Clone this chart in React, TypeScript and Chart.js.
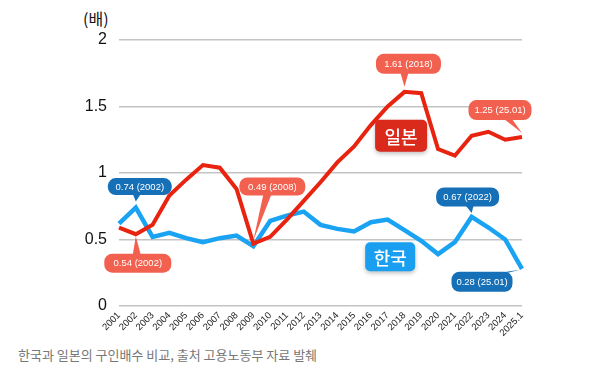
import React, { useEffect, useRef } from "react";
import { Chart, registerables } from "chart.js";

Chart.register(...registerables);

const years = ["2001","2002","2003","2004","2005","2006","2007","2008","2009","2010","2011","2012","2013","2014","2015","2016","2017","2018","2019","2020","2021","2022","2023","2024","2025.1"];
const japan = [0.59,0.54,0.61,0.83,0.95,1.06,1.04,0.88,0.47,0.52,0.65,0.79,0.93,1.08,1.20,1.36,1.50,1.61,1.60,1.18,1.13,1.28,1.31,1.25,1.27];
const korea = [0.62,0.74,0.52,0.55,0.51,0.48,0.51,0.53,0.45,0.64,0.68,0.71,0.61,0.58,0.56,0.63,0.65,0.57,0.49,0.39,0.48,0.67,0.59,0.50,0.28];
const yTicks = [0, 0.5, 1, 1.5, 2];

const RED = "#e8230f";
const BLUE = "#1aa3f3";
const SALMON = "#f2604f";
const DARKBLUE = "#1670b8";

// callouts: dataset index, point index, text, color, bubble offsets
const callouts = [
  { ds: 1, i: 1, text: "0.74 (2002)", color: DARKBLUE, dx: 4, dy: -21, w: 64, h: 17, bdx: -3, gap: 6 },
  { ds: 0, i: 1, text: "0.54 (2002)", color: SALMON, dx: 2, dy: 29, w: 67, h: 19, bdx: -1, gap: 2 },
  { ds: 0, i: 8, text: "0.49 (2008)", color: SALMON, dx: 19, dy: -57, w: 66, h: 18, bdx: -5, gap: 3 },
  { ds: 0, i: 17, text: "1.61 (2018)", color: SALMON, dx: 4, dy: -28, w: 65, h: 20, bdx: -4, gap: 5 },
  { ds: 0, i: 24, text: "1.25 (25.01)", color: SALMON, dx: -22, dy: -27, w: 63, h: 20, bdx: 8, gap: 4 },
  { ds: 1, i: 21, text: "0.67 (2022)", color: DARKBLUE, dx: -4, dy: -20, w: 63, h: 19, bdx: 2, gap: 4 },
  { ds: 1, i: 24, text: "0.28 (25.01)", color: DARKBLUE, dx: -40, dy: 13, w: 61, h: 20, bdx: 22, gap: 1 },
];

const seriesLabels = [
  { text: "일본", color: "#d92a1c", x: 16.8, y: 1.28, w: 52, h: 32 },
  { text: "한국", color: "#1a9ff0", x: 16.15, y: 0.37, w: 50, h: 29 },
];

function rr(ctx: CanvasRenderingContext2D, x: number, y: number, w: number, h: number, r: number) {
  ctx.beginPath();
  ctx.moveTo(x + r, y);
  ctx.lineTo(x + w - r, y);
  ctx.arcTo(x + w, y, x + w, y + r, r);
  ctx.lineTo(x + w, y + h - r);
  ctx.arcTo(x + w, y + h, x + w - r, y + h, r);
  ctx.lineTo(x + r, y + h);
  ctx.arcTo(x, y + h, x, y + h - r, r);
  ctx.lineTo(x, y + r);
  ctx.arcTo(x, y, x + r, y, r);
  ctx.closePath();
}

const calloutPlugin = {
  id: "callouts",
  afterDatasetsDraw(chart: any) {
    const ctx: CanvasRenderingContext2D = chart.ctx;
    const xs = chart.scales.x;
    const ys = chart.scales.y;
    ctx.save();
    for (const c of callouts) {
      const v = chart.data.datasets[c.ds].data[c.i];
      const px = xs.getPixelForValue(c.i);
      const py = ys.getPixelForValue(v);
      const cx = px + c.dx;
      const cy = py + c.dy;
      const below = c.dy > 0;
      const edgeY = below ? cy - c.h / 2 + 1 : cy + c.h / 2 - 1;
      const bx = cx + c.bdx;
      const tipY = below ? py + c.gap : py - c.gap;
      ctx.fillStyle = c.color;
      ctx.beginPath();
      ctx.moveTo(bx - 4, edgeY);
      ctx.lineTo(bx + 4, edgeY);
      ctx.lineTo(px + (c.bdx > 15 ? -2 : 0), tipY);
      ctx.closePath();
      ctx.fill();
      rr(ctx, cx - c.w / 2, cy - c.h / 2, c.w, c.h, Math.min(8, c.h / 2));
      ctx.fill();
      ctx.fillStyle = "#ffffff";
      ctx.font = "9.5px 'Liberation Sans', Arial, sans-serif";
      ctx.textAlign = "center";
      ctx.textBaseline = "middle";
      ctx.fillText(c.text, cx, cy + 0.5);
    }
    for (const s of seriesLabels) {
      const cx = xs.getPixelForValue(s.x);
      const cy = ys.getPixelForValue(s.y);
      ctx.save();
      ctx.shadowColor = "rgba(0,0,0,0.25)";
      ctx.shadowBlur = 4;
      ctx.shadowOffsetY = 2;
      ctx.fillStyle = s.color;
      rr(ctx, cx - s.w / 2, cy - s.h / 2, s.w, s.h, 5);
      ctx.fill();
      ctx.restore();
      ctx.fillStyle = "#ffffff";
      ctx.font = "500 18px 'Noto Sans CJK KR', sans-serif";
      ctx.textAlign = "center";
      ctx.textBaseline = "middle";
      ctx.fillText(s.text, cx, cy + 1);
    }
    ctx.restore();
  },
};

export default function App() {
  const ref = useRef<HTMLCanvasElement | null>(null);
  useEffect(() => {
    if (!ref.current) return;
    const chart = new Chart(ref.current, {
      type: "line",
      data: {
        labels: years,
        datasets: [
          { label: "일본", data: japan, borderColor: RED, borderWidth: 4, pointRadius: 0, tension: 0, fill: false },
          { label: "한국", data: korea, borderColor: BLUE, borderWidth: 4.5, pointRadius: 0, tension: 0, fill: false },
        ],
      },
      options: {
        responsive: false,
        animation: false,
        layout: { padding: { top: 40, right: 77, left: 0, bottom: 0 } },
        plugins: { legend: { display: false }, tooltip: { enabled: false } },
        scales: {
          x: {
            offset: false,
            grid: { display: false, drawTicks: false },
            border: { display: false },
            afterFit: (s: any) => { s.height = 34; },
            ticks: {
              autoSkip: false,
              maxRotation: 45,
              minRotation: 45,
              padding: 4,
              color: "#222",
              font: { family: "'Liberation Sans', Arial, sans-serif", size: 9.5 },
            },
          },
          y: {
            min: 0,
            max: 2,
            afterFit: (s: any) => { s.width = 119; },
            afterBuildTicks: (s: any) => { s.ticks = yTicks.map((v) => ({ value: v })); },
            grid: { color: "#c4c4c4", lineWidth: 1.5, drawTicks: false },
            border: { display: false },
            ticks: {
              padding: 12,
              color: "#111",
              callback: (v: any) => String(v),
              font: { family: "'Liberation Sans', Arial, sans-serif", size: 16 },
            },
          },
        },
      },
      plugins: [calloutPlugin],
    });
    return () => chart.destroy();
  }, []);
  return (
    <div style={{ position: "absolute", left: 0, top: 0, width: 599, height: 384, background: "#fff" }}>
      <div style={{ position: "absolute", left: 83, top: 7, fontFamily: "'Noto Sans CJK KR', sans-serif", fontSize: 16, color: "#111", lineHeight: "22px" }}>(배)</div>
      <canvas ref={ref} width={599} height={340} style={{ position: "absolute", left: 0, top: 0 }} />
      <div style={{ position: "absolute", left: 18, top: 345, fontFamily: "'Noto Sans CJK KR', sans-serif", fontSize: 13, color: "#777", lineHeight: "20px", whiteSpace: "nowrap" }}>
        한국과 일본의 구인배수 비교, 출처 고용노동부 자료 발췌
      </div>
    </div>
  );
}
